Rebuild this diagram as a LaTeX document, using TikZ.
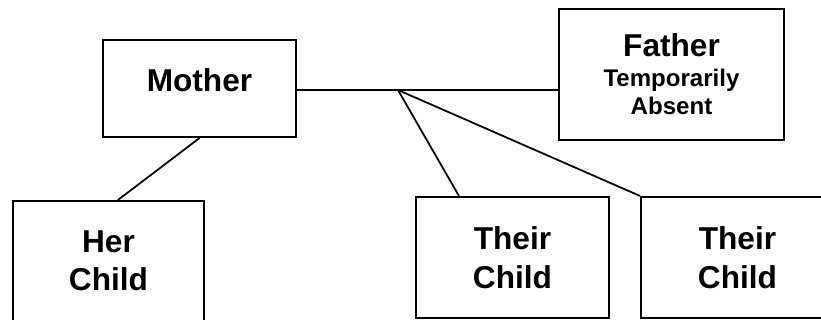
\documentclass[tikz,border=0pt]{standalone}
\usepackage{fontspec}
\setmainfont{Liberation Sans}
\usetikzlibrary{positioning}

\begin{document}
\begin{tikzpicture}[x=0.02cm, y=-0.02cm,
                    member/.style={rectangle, draw, line width=1.2pt, align=center,
                                   font=\bfseries\fontsize{18}{22}\selectfont},
                    link/.style={line width=1pt}]
    \useasboundingbox (0,0) rectangle (821,320);
    \clip (0,0) rectangle (821,320);

    % Parents
    \node[member, minimum width=3.86cm, minimum height=1.94cm, text depth=0.34cm] (mother) at (199.5,88.5) {Mother};
    \node[member, minimum width=4.5cm, minimum height=2.62cm] (father) at (671.5,74.5) {Father\\[-5pt]{\fontsize{13.7}{15}\selectfont Temporarily}\\[-6pt]{\fontsize{13.7}{15}\selectfont Absent}};

    % Children
    \node[member, minimum width=3.82cm, minimum height=2.5cm, text depth=0.12cm] (herchild) at (108.5,263.5) {Her\\Child};
    \node[member, minimum width=3.86cm, minimum height=2.42cm] (child1) at (512.5,257.5) {Their\\Child};
    \node[member, minimum width=3.86cm, minimum height=2.42cm] (child2) at (737.5,257.5) {Their\\Child};

    % Connections
    \coordinate (j) at (398,90);
    \draw[link] (mother.east |- j) -- (j -| father.west);
    \draw[link] (mother.south) -- ([xshift=0.19cm]herchild.north);
    \draw[link] (j) -- ([xshift=0.88cm]child1.north west);
    \draw[link] (j) -- (child2.north west);
\end{tikzpicture}
\end{document}
